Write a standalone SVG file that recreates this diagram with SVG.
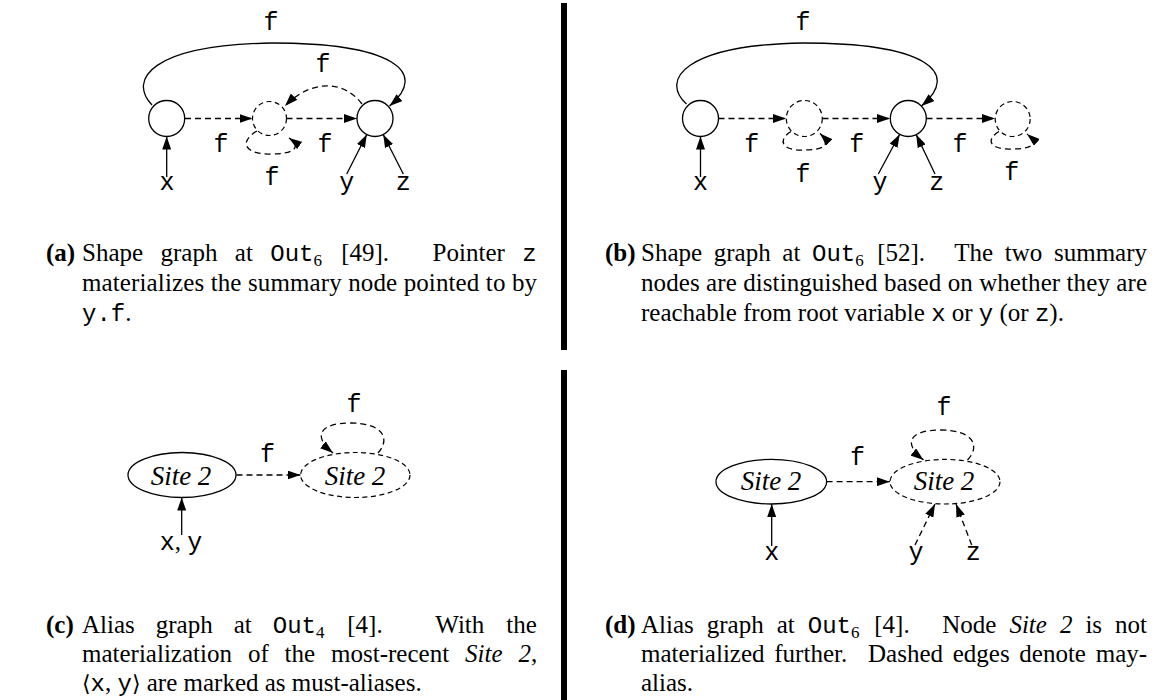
<svg xmlns="http://www.w3.org/2000/svg" width="1161" height="700" viewBox="0 0 1161 700">
<defs>
<style>
.n{fill:#fff;stroke:#000;stroke-width:1.3}
.nd{fill:#fff;stroke:#000;stroke-width:1.2;stroke-dasharray:5,3.5}
.e{fill:none;stroke:#000;stroke-width:1.3}
.ed{fill:none;stroke:#000;stroke-width:1.3;stroke-dasharray:6,4}
.lbl{font-family:"Liberation Mono",monospace;font-size:25px;text-anchor:middle;fill:#000}
.site{font-family:"Liberation Serif",serif;font-style:italic;font-size:27px;text-anchor:middle;fill:#000}
.cap{font-family:"Liberation Serif",serif;font-size:25px;fill:#000}
.tt{font-family:"Liberation Mono",monospace;font-size:24px}
.b{font-weight:bold}
.it{font-style:italic}
.sub{font-size:17px}
.ang{font-family:"DejaVu Serif","DejaVu Sans",serif;font-size:22px}
</style>
<marker id="ah" markerWidth="13" markerHeight="9" refX="13" refY="4.5" orient="auto" markerUnits="userSpaceOnUse"><path d="M0,0 L13,4.5 L0,9 z" fill="#000"/></marker>
</defs>
<rect width="1161" height="700" fill="#fff"/>

<!-- dividers -->
<rect x="561" y="3" width="6" height="347" fill="#000"/>
<rect x="561" y="370" width="6" height="330" fill="#000"/>

<!-- connectors -->
<g id="connectors">
<!-- (a) -->
<path class="e" d="M152,105 C128,80 150,45 272,43 C392,43 430,72 389.5,106" marker-end="url(#ah)"/>
<path class="ed" d="M185,118.5 H252.5" marker-end="url(#ah)"/>
<path class="ed" d="M286.5,118.5 H357" marker-end="url(#ah)"/>
<path class="ed" d="M362,104 C343,79 310,80 285,106" marker-end="url(#ah)"/>
<path class="ed" d="M257,131 C238,142 245,155 272,154 C294,154 302,147 289,138" marker-end="url(#ah)"/>
<path class="e" d="M166.7,177 V136.5" marker-end="url(#ah)"/>
<path class="e" d="M346.7,174 L366.8,134.5" marker-end="url(#ah)"/>
<path class="e" d="M403.3,174 L383.2,134.5" marker-end="url(#ah)"/>
<!-- (b) -->
<path class="e" d="M686.5,104 C660,80 684,45 803,43 C925,43 962,72 921.5,106" marker-end="url(#ah)"/>
<path class="ed" d="M718.5,118.5 H786" marker-end="url(#ah)"/>
<path class="ed" d="M822.5,118.5 H890" marker-end="url(#ah)"/>
<path class="ed" d="M926.5,118.5 H995" marker-end="url(#ah)"/>
<path class="ed" d="M791,131.5 C777,140 782,151 803,150 C822,150 833,146 820,133.5" marker-end="url(#ah)"/>
<path class="ed" d="M999,131.5 C985,140 990,150 1012,149 C1030,149 1040,145 1027,134" marker-end="url(#ah)"/>
<path class="e" d="M700.5,177 V136.5" marker-end="url(#ah)"/>
<path class="e" d="M878.3,174 L899.7,134.3" marker-end="url(#ah)"/>
<path class="e" d="M935,174 L916.2,134.5" marker-end="url(#ah)"/>
<!-- (c) -->
<path class="ed" d="M236.5,475 H300.5" marker-end="url(#ah)"/>
<path class="ed" d="M378,453 C390,440 385,423 350,423 C320,423 312,436 333,453" marker-end="url(#ah)"/>
<path class="e" d="M181.7,535 V497.5" marker-end="url(#ah)"/>
<!-- (d) -->
<path class="ed" d="M826.6,481.7 H889.8" marker-end="url(#ah)"/>
<path class="ed" d="M967.5,460 C980,447 975,430 940,430 C910,430 902,443 923.5,460" marker-end="url(#ah)"/>
<path class="e" d="M771.7,546 V504" marker-end="url(#ah)"/>
<path class="ed" d="M915,545 L935,504" marker-end="url(#ah)"/>
<path class="ed" d="M971.7,545 L956,504" marker-end="url(#ah)"/>
</g>

<!-- (a) nodes -->
<g id="a1"><circle class="n" cx="166.7" cy="118.5" r="18"/></g>
<g id="a2"><circle class="nd" cx="269.5" cy="118.5" r="17"/></g>
<g id="a3"><circle class="n" cx="375" cy="118.5" r="18"/></g>
<g id="a-labels">
<text class="lbl" x="271" y="30">f</text>
<text class="lbl" x="323" y="72">f</text>
<text class="lbl" x="221" y="152">f</text>
<text class="lbl" x="325" y="152">f</text>
<text class="lbl" x="272" y="185">f</text>
<text class="lbl" x="167" y="190">x</text>
<text class="lbl" x="346.7" y="190">y</text>
<text class="lbl" x="403.3" y="190">z</text>
</g>

<!-- (b) nodes -->
<g id="b1"><circle class="n" cx="700.5" cy="118.5" r="18"/></g>
<g id="b2"><circle class="nd" cx="804.3" cy="118.5" r="18"/></g>
<g id="b3"><circle class="n" cx="908.3" cy="118.5" r="18"/></g>
<g id="b4"><circle class="nd" cx="1012.7" cy="119" r="17.5"/></g>
<g id="b-labels">
<text class="lbl" x="803" y="30">f</text>
<text class="lbl" x="751.7" y="152">f</text>
<text class="lbl" x="856.7" y="152">f</text>
<text class="lbl" x="960" y="152">f</text>
<text class="lbl" x="803" y="182">f</text>
<text class="lbl" x="1011.7" y="180">f</text>
<text class="lbl" x="700.5" y="190">x</text>
<text class="lbl" x="880" y="190">y</text>
<text class="lbl" x="936.7" y="190">z</text>
</g>

<!-- (c) nodes -->
<g id="c1"><ellipse class="n" cx="182" cy="475" rx="54" ry="22.5"/><text class="site" x="181" y="485">Site 2</text></g>
<g id="c2"><ellipse class="nd" cx="355.3" cy="475" rx="54.7" ry="22.5"/><text class="site" x="355" y="485">Site 2</text></g>
<g id="c-labels">
<text class="lbl" x="267.5" y="462">f</text>
<text class="lbl" x="354" y="412">f</text>
<text class="lbl" x="181" y="550">x<tspan style="font-family:'Liberation Serif',serif">, </tspan>y</text>
</g>

<!-- (d) nodes -->
<g id="d1"><ellipse class="n" cx="771.3" cy="481.7" rx="55.3" ry="22.3"/><text class="site" x="771" y="490">Site 2</text></g>
<g id="d2"><ellipse class="nd" cx="945" cy="481.7" rx="55" ry="22.3"/><text class="site" x="944" y="490">Site 2</text></g>
<g id="d-labels">
<text class="lbl" x="857.5" y="465">f</text>
<text class="lbl" x="944" y="415">f</text>
<text class="lbl" x="771.7" y="560">x</text>
<text class="lbl" x="916" y="560">y</text>
<text class="lbl" x="973.3" y="560">z</text>
</g>

<!-- captions -->
<g id="cap-a">
<text class="cap" y="261"><tspan class="b" x="46">(a)</tspan><tspan x="82">Shape</tspan><tspan x="160.5">graph</tspan><tspan x="234.8">at</tspan><tspan x="270.3" class="tt">Out</tspan><tspan class="sub" dy="5">6</tspan><tspan x="341.2" y="261">[49].</tspan><tspan x="432.6">Pointer</tspan><tspan x="522.2" class="tt">z</tspan></text>
<text class="cap" x="82" y="291" textLength="455" lengthAdjust="spacing">materializes the summary node pointed to by</text>
<text class="cap" x="82" y="321"><tspan class="tt">y.f</tspan>.</text>
</g>
<g id="cap-b">
<text class="cap" y="261"><tspan class="b" x="605">(b)</tspan><tspan x="641">Shape</tspan><tspan x="713.8">graph</tspan><tspan x="782.3">at</tspan><tspan x="812" class="tt">Out</tspan><tspan class="sub" dy="5">6</tspan><tspan x="877.2" y="261">[52].</tspan><tspan x="954.2">The</tspan><tspan x="1004.8">two</tspan><tspan x="1054">summary</tspan></text>
<text class="cap" x="641" y="291" textLength="506" lengthAdjust="spacing">nodes are distinguished based on whether they are</text>
<text class="cap" x="641" y="321">reachable from root variable <tspan class="tt">x</tspan> or <tspan class="tt">y</tspan> (or <tspan class="tt">z</tspan>).</text>
</g>
<g id="cap-c">
<text class="cap" y="633"><tspan class="b" x="46">(c)</tspan><tspan x="82">Alias</tspan><tspan x="155.8">graph</tspan><tspan x="233.7">at</tspan><tspan x="272.8" class="tt">Out</tspan><tspan class="sub" dy="5">4</tspan><tspan x="347.3" y="633">[4].</tspan><tspan x="435.3">With</tspan><tspan x="506.3">the</tspan></text>
<text class="cap" y="662"><tspan x="82">materialization</tspan><tspan x="247.9">of</tspan><tspan x="284.6">the</tspan><tspan x="331.1">most-recent</tspan><tspan x="465" class="it">Site</tspan><tspan x="518.4" class="it">2</tspan>,</text>
<text class="cap" x="82" y="691"><tspan class="ang">⟨</tspan><tspan class="tt">x</tspan>, <tspan class="tt">y</tspan><tspan class="ang">⟩</tspan> are marked as must-aliases.</text>
</g>
<g id="cap-d">
<text class="cap" y="633"><tspan class="b" x="605">(d)</tspan><tspan x="641">Alias</tspan><tspan x="706.8">graph</tspan><tspan x="776.7">at</tspan><tspan x="807.8" class="tt">Out</tspan><tspan class="sub" dy="5">6</tspan><tspan x="874.3" y="633">[4].</tspan><tspan x="942.2">Node</tspan><tspan x="1009.4" class="it">Site</tspan><tspan x="1059.9" class="it">2</tspan><tspan x="1085.4">is</tspan><tspan x="1115.1">not</tspan></text>
<text class="cap" y="662"><tspan x="641">materialized</tspan><tspan x="774.3">further.</tspan><tspan x="868">Dashed</tspan><tspan x="952.7">edges</tspan><tspan x="1019.3">denote</tspan><tspan x="1095.7">may-</tspan></text>
<text class="cap" x="641" y="691">alias.</text>
</g>
</svg>
